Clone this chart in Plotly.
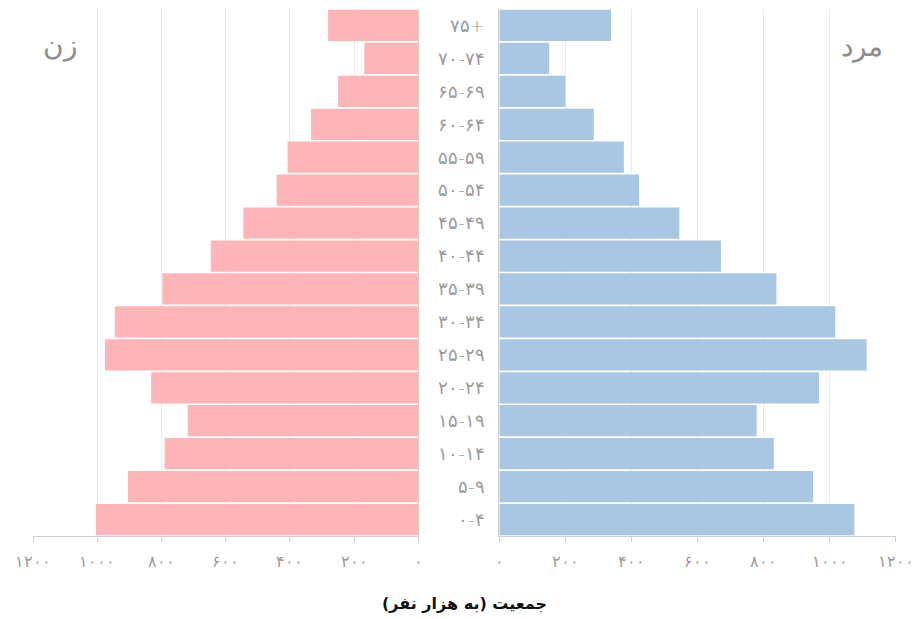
import plotly.graph_objects as go

age_groups = ["۰-۴", "۵-۹", "۱۰-۱۴", "۱۵-۱۹", "۲۰-۲۴", "۲۵-۲۹", "۳۰-۳۴", "۳۵-۳۹",
              "۴۰-۴۴", "۴۵-۴۹", "۵۰-۵۴", "۵۵-۵۹", "۶۰-۶۴", "۶۵-۶۹", "۷۰-۷۴", "۷۵+"]
women = [1004, 904, 790, 718, 832, 976, 945, 797, 646, 545, 441, 407, 334, 250, 168, 281]
men = [1075, 950, 831, 779, 968, 1112, 1017, 839, 671, 545, 423, 377, 286, 200, 151, 338]

tick_vals = [0, 200, 400, 600, 800, 1000, 1200]
tick_text = ["۰", "۲۰۰", "۴۰۰", "۶۰۰", "۸۰۰", "۱۰۰۰", "۱۲۰۰"]

FONT = "DejaVu Sans"
OFF = 8
W, H = 919 - OFF, 619 - OFF


def px(x):
    return (x - OFF) / W


def py(y):
    return 1 - (y - OFF) / H


fig = go.Figure()
fig.add_trace(go.Bar(y=age_groups, x=women, orientation="h", xaxis="x", yaxis="y",
                     marker=dict(color="#FFB5B8", line=dict(width=0)), showlegend=False))
fig.add_trace(go.Bar(y=age_groups, x=men, orientation="h", xaxis="x2", yaxis="y2",
                     marker=dict(color="#A9C6E2", line=dict(width=0)), showlegend=False))

ydom = [py(536), py(9)]
axis_common = dict(
    tickvals=tick_vals, ticktext=tick_text, showgrid=True, gridcolor="#EBEBEB", gridwidth=1,
    showline=True, linecolor="#D0D0D0", linewidth=1, ticks="outside", ticklen=5,
    tickcolor="#D0D0D0", tickfont=dict(family=FONT, size=16, color="#9A9A9A", weight=200),
    zeroline=False, fixedrange=True, ticklabelstandoff=6, automargin=False,
    ticklabeloverflow="allow",
)
fig.update_layout(
    width=W, height=H, margin=dict(l=0, r=0, t=0, b=0, autoexpand=False),
    paper_bgcolor="white", plot_bgcolor="white", bargap=0.05,
    xaxis=dict(domain=[px(33), px(418.3)], range=[1200, 0], anchor="y", **axis_common),
    xaxis2=dict(domain=[px(499.3), px(895.7)], range=[0, 1200], anchor="y2", **axis_common),
    yaxis=dict(domain=ydom, anchor="x", side="right", showticklabels=False, showline=True,
               linecolor="#D0D0D0", linewidth=1, ticks="", showgrid=False, categoryorder="array",
               categoryarray=age_groups, automargin=False),
    yaxis2=dict(domain=ydom, anchor="x2", side="left", showticklabels=True, showline=True,
                linecolor="#D0D0D0", linewidth=1, ticks="", showgrid=False, categoryorder="array",
                categoryarray=age_groups, ticklabelstandoff=10, automargin=False,
                tickfont=dict(family=FONT, size=18, color="#9A9A9A", weight=200)),
    annotations=[
        dict(text="زن", x=px(60), y=py(45), xref="paper", yref="paper", showarrow=False,
             xanchor="center", yanchor="middle",
             font=dict(family=FONT, size=28, color="#8C8C8C", weight=200)),
        dict(text="مرد", x=px(862), y=py(46), xref="paper", yref="paper", showarrow=False,
             xanchor="center", yanchor="middle",
             font=dict(family=FONT, size=28, color="#8C8C8C", weight=200)),
        dict(text="<b>جمعیت (به هزار نفر)</b>", x=px(464), y=py(603), xref="paper", yref="paper",
             showarrow=False, xanchor="center", yanchor="middle",
             font=dict(family=FONT, size=16, color="#111111")),
    ],
)

fig.write_html("out.html")
